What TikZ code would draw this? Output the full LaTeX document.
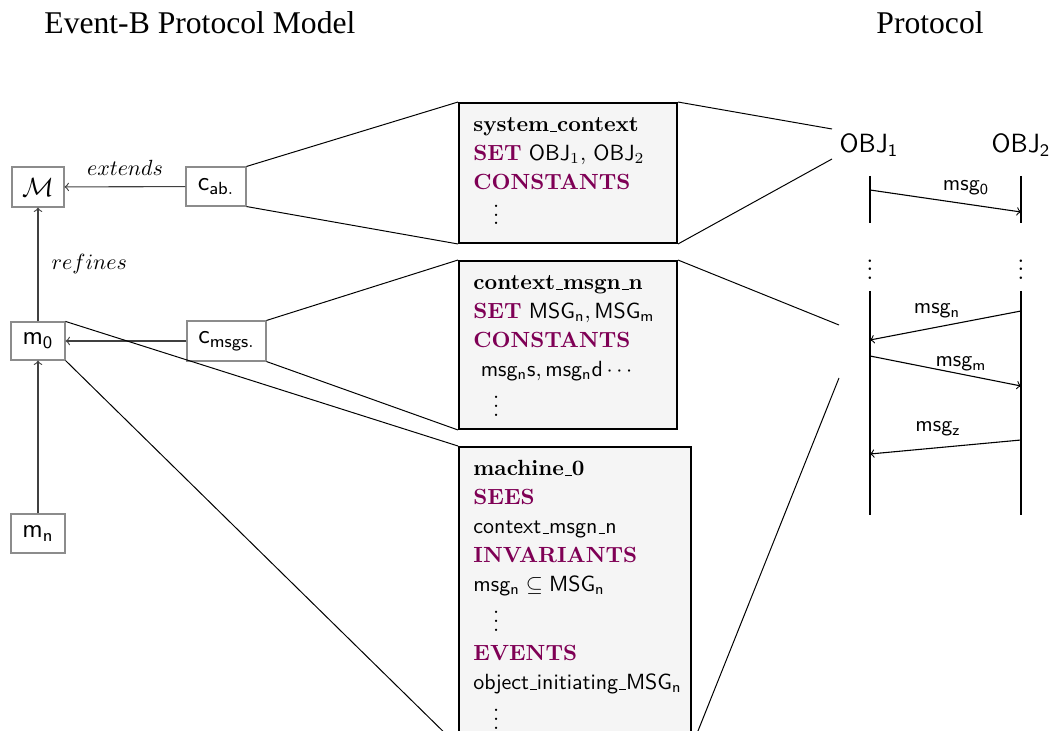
\documentclass[tikz,border=0pt]{standalone}
\usepackage{amsmath,amssymb}
\usepackage{fontspec}
\newfontfamily\titlefont{Liberation Serif}
\usetikzlibrary{fit}
\definecolor{kwcolor}{RGB}{127,0,85}
\definecolor{boxfill}{gray}{0.96}
\newcommand\kwd[1]{\textcolor{kwcolor}{\textbf{#1}}}
\newcommand\indots{\hspace*{9pt}$\vdots$}
% short rule underscore
\newcommand\us{\leavevmode\kern.06em\vbox{\hrule width.3em}}

\begin{document}
\begin{tikzpicture}[x=0.16mm,y=-0.16mm,
  small/.style={draw=black!45, line width=0.5pt, inner sep=0pt, font=\large},
  bigbox/.style={draw=black, line width=0.9pt, fill=boxfill, inner sep=0pt},
  boxtext/.style={anchor=north west, align=left, inner sep=0pt,
                  font=\fontsize{10}{13.2}\selectfont},
  rel/.style={->, draw=black!75, line width=0.5pt},
  zoomline/.style={line width=0.45pt},
  lifeline/.style={line width=1.1pt},
  msgarrow/.style={->, line width=0.5pt},
  msglabel/.style={inner sep=1pt},
  titletext/.style={anchor=base west, inner sep=0pt,
                    font=\titlefont\fontsize{14.4}{17}\selectfont}]

\useasboundingbox (0,0) rectangle (1057,731);
\clip (0,0) rectangle (1057,731);

% headings
\node[titletext] (tleft) at (44,34) {Event-B Protocol Model};
\node[titletext] (tright) at (876,34) {Protocol};

% model components
\node[small, minimum width=8.32mm, minimum height=6.4mm] (M) at (38,187) {$\mathcal{M}$};
\node[small, minimum width=9.6mm, minimum height=6.24mm] (cab) at (216,186.5) {$\mathsf{c_{ab.}}$};
\node[small, minimum width=8.64mm, minimum height=6.08mm] (m0) at (38,341) {$\mathsf{m_0}$};
\node[small, minimum width=12.64mm, minimum height=6.4mm] (cmsg) at (226.5,341) {$\mathsf{c_{msgs.}}$};
\node[small, minimum width=8.64mm, minimum height=6.24mm] (mn) at (38,533.5) {$\mathsf{m_n}$};

\draw[rel] (cab) -- node[above, inner sep=5pt] {$extends$} (M);
\draw[rel] (m0) -- node[right, inner sep=6pt] {$refines$} (M);
\draw[rel] (cmsg) -- (m0);
\draw[rel] (mn) -- (m0);

% detail boxes
\node[bigbox, fit={(459,103)(677,243)}] (sys) {};
\node[bigbox, fit={(459,261)(677,429)}] (ctx) {};
\node[bigbox, fit={(459,447)(691,745)}] (mach) {};

\node[boxtext] (systext) at (473,117) {%
  \textbf{system\us context}\\
  \kwd{SET} $\mathsf{OBJ}_1$, $\mathsf{OBJ}_2$\\
  \kwd{CONSTANTS}\\
  \indots};

\node[boxtext] (ctxtext) at (473,275) {%
  \textbf{context\us msgn\us n}\\
  \kwd{SET} $\mathsf{MSG_n}, \mathsf{MSG_m}$\\
  \kwd{CONSTANTS}\\
  \ $\mathsf{msg_n s}, \mathsf{msg_n d}\cdots$\\
  \indots};

\node[boxtext] (machtext) at (473,460) {%
  \textbf{machine\us 0}\\
  \kwd{SEES}\\
  \textsf{context\us msgn\us n}\\
  \kwd{INVARIANTS}\\
  $\mathsf{msg_n} \subseteq \mathsf{MSG_n}$\\
  \indots\\
  \kwd{EVENTS}\\
  \textsf{object\us initiating\us}$\mathsf{MSG_n}$\\
  \indots};

% zoom lines
\coordinate (p1) at (832,129);
\coordinate (p2) at (832,159);
\coordinate (p3) at (839,325);
\coordinate (p4) at (839,378);
\draw[zoomline] (cab.north east) -- (sys.north west);
\draw[zoomline] (cab.south east) -- (sys.south west);
\draw[zoomline] (cmsg.north east) -- (ctx.north west);
\draw[zoomline] (cmsg.south east) -- (ctx.south west);
\draw[zoomline] (m0.north east) -- (mach.north west);
\draw[zoomline] (m0.south east) -- (mach.south west);
\draw[zoomline] (sys.north east) -- (p1);
\draw[zoomline] (sys.south east) -- (p2);
\draw[zoomline] (ctx.north east) -- (p3);
\draw[zoomline] (mach.south east) -- (p4);

% protocol
\node[font=\large] (obj1) at (869,145) {$\mathsf{OBJ_1}$};
\node[font=\large] (obj2) at (1021,145) {$\mathsf{OBJ_2}$};

\coordinate (a1) at (870,176); \coordinate (a2) at (870,223);
\coordinate (b1) at (1021,176); \coordinate (b2) at (1021,223);
\coordinate (c1) at (870,291); \coordinate (c2) at (870,515);
\coordinate (d1) at (1021,291); \coordinate (d2) at (1021,515);
\draw[lifeline] (a1) -- (a2);
\draw[lifeline] (b1) -- (b2);
\draw[lifeline] (c1) -- (c2);
\draw[lifeline] (d1) -- (d2);
\node[font=\large, inner sep=0pt] (dotsl) at (870,263) {$\vdots$};
\node[font=\large, inner sep=0pt] (dotsr) at (1021,263) {$\vdots$};

\coordinate (s0) at (870,190); \coordinate (r0) at (1021,212);
\coordinate (sn) at (1021,311); \coordinate (rn) at (870,340);
\coordinate (sm) at (870,356); \coordinate (rm) at (1021,386);
\coordinate (sz) at (1021,440); \coordinate (rz) at (870,454);
\draw[msgarrow] (s0) -- (r0);
\draw[msgarrow] (sn) -- (rn);
\draw[msgarrow] (sm) -- (rm);
\draw[msgarrow] (sz) -- (rz);
\node[msglabel] (l0) at (966,188) {$\mathsf{msg_0}$};
\node[msglabel] (ln) at (937,311) {$\mathsf{msg_n}$};
\node[msglabel] (lm) at (961,364) {$\mathsf{msg_m}$};
\node[msglabel] (lz) at (938,429) {$\mathsf{msg_z}$};
\end{tikzpicture}
\end{document}
